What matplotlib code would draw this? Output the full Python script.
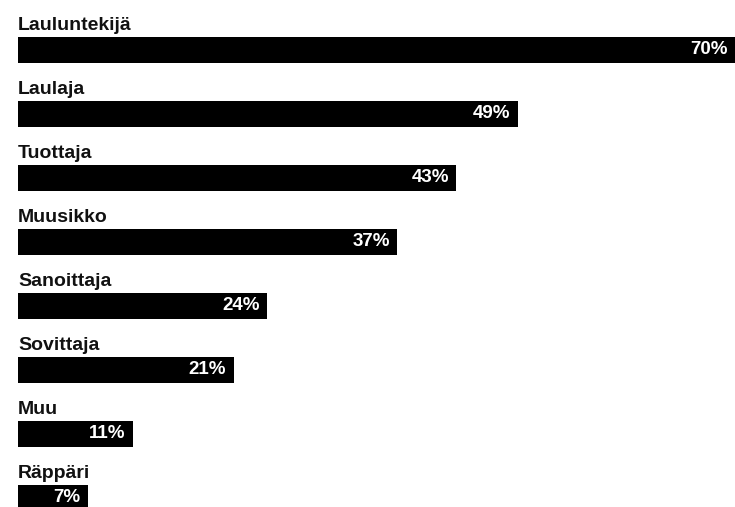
import matplotlib.pyplot as plt

roolit = ["Lauluntekijä", "Laulaja", "Tuottaja", "Muusikko",
          "Sanoittaja", "Sovittaja", "Muu", "Räppäri"]
# palkkien pituudet luettu kuvasta (prosenttia), tekstit pyöristettyinä
osuudet = [70.2, 48.9, 42.9, 37.1, 24.4, 21.1, 11.25, 6.85]

W, H = 735, 507
fig = plt.figure(figsize=(W / 100, H / 100), dpi=100)
ax = fig.add_axes([0, 0, 1, 1])

# pikseleistä data-yksiköihin
px_x = 10.22             # px per prosentti
rivi = 64                # px per rivi
ax.set_xlim(-18 / px_x, (W - 18) / px_x)
ax.set_ylim((H - 50) / rivi, -50 / rivi)
ax.axis("off")

fonttiperhe = ["Liberation Sans", "DejaVu Sans"]
for i, (nimi, arvo) in enumerate(zip(roolit, osuudet)):
    ax.barh(i, arvo, height=26 / rivi, left=0, color="black")
    ax.text(0, i - 20 / rivi, nimi, ha="left", va="baseline",
            fontsize=14, fontweight="bold", family=fonttiperhe, color="#111111")
    ax.text(min(arvo, 70.2) - 7.5 / px_x, i, f"{round(arvo)}%", ha="right", va="center",
            fontsize=13.5, fontweight="bold", family=fonttiperhe, color="white")

plt.savefig("out.png", dpi=100)
